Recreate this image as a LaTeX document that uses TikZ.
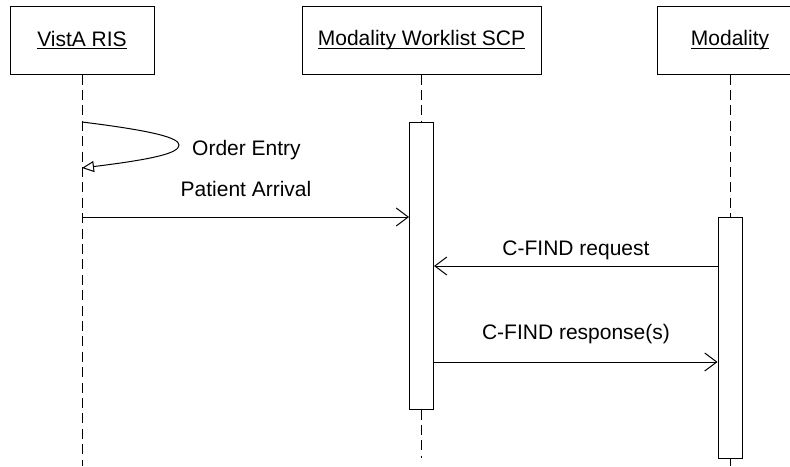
\documentclass[tikz,border=0pt]{standalone}
\usepackage{fontspec}
\setmainfont{Liberation Sans}
\usetikzlibrary{arrows.meta,positioning}
\newcommand{\ultext}[1]{\setbox0\hbox{#1}\rlap{\rule[-1.6pt]{\wd0}{0.5pt}}\box0}

\begin{document}
\begin{tikzpicture}[x=0.5pt,y=-0.5pt,line width=0.5pt,
    every node/.style={font=\fontsize{10.5}{12.6}\selectfont},
    actor/.style={draw,fill=white,minimum height=34pt,inner sep=0pt},
    bar/.style={draw,fill=white,minimum width=12pt,inner sep=0pt},
    life/.style={dash pattern=on 5pt off 2.7pt},
    msg/.style={-{Straight Barb[length=6pt,width=9pt]}},
    lbl/.style={anchor=base}]
    \useasboundingbox (0,0) rectangle (790,466);
    \clip (0,0) rectangle (790,466);
    % participants
    \node[actor,minimum width=72pt] (ris) at (82,40) {\ultext{VistA RIS}};
    \node[actor,minimum width=119.5pt] (wl) at (421.5,40) {\ultext{Modality Worklist SCP}};
    \node[actor,minimum width=73pt] (mod) at (730,40) {\ultext{Modality}};
    % activations
    \node[bar,minimum height=143.5pt] (wlact) at (421.5,265.5) {};
    \node[bar,minimum height=120.5pt] (modact) at (730,337.5) {};
    % lifelines
    \coordinate (risend) at (82,466);
    \coordinate (wlend) at (421.5,458);
    \coordinate (modend) at (730,466);
    \draw[life] (ris.south) -- (risend);
    \draw[life] (wl.south) -- (wlact.north);
    \draw[life] (wlact.south) -- (wlend);
    \draw[life] (mod.south) -- (modact.north);
    \draw[life] (modact.south) -- (modend);
    % messages
    \coordinate (oe1) at (82,122);
    \coordinate (oe2) at (82,168);
    \draw[-{Triangle[length=6pt,width=5.5pt,fill=white]}] (oe1)
      .. controls (155,131) and (179,138) .. (179,145)
      .. controls (179,153) and (155,159) .. (oe2);
    \node[lbl,anchor=base west] (oelbl) at (185,155) {Order Entry};
    \coordinate (pa) at (82,217);
    \draw[msg] (pa) -- (pa -| wlact.west);
    \node[lbl] (palbl) at (246,196) {Patient Arrival};
    \coordinate (req) at (718,266);
    \draw[msg] (req -| modact.west) -- (req -| wlact.east);
    \node[lbl] (reqlbl) at (576,255) {C-FIND request};
    \coordinate (rsp) at (433,362);
    \draw[msg] (rsp -| wlact.east) -- (rsp -| modact.west);
    \node[lbl] (rsplbl) at (576,339) {C-FIND response(s)};
\end{tikzpicture}
\end{document}
